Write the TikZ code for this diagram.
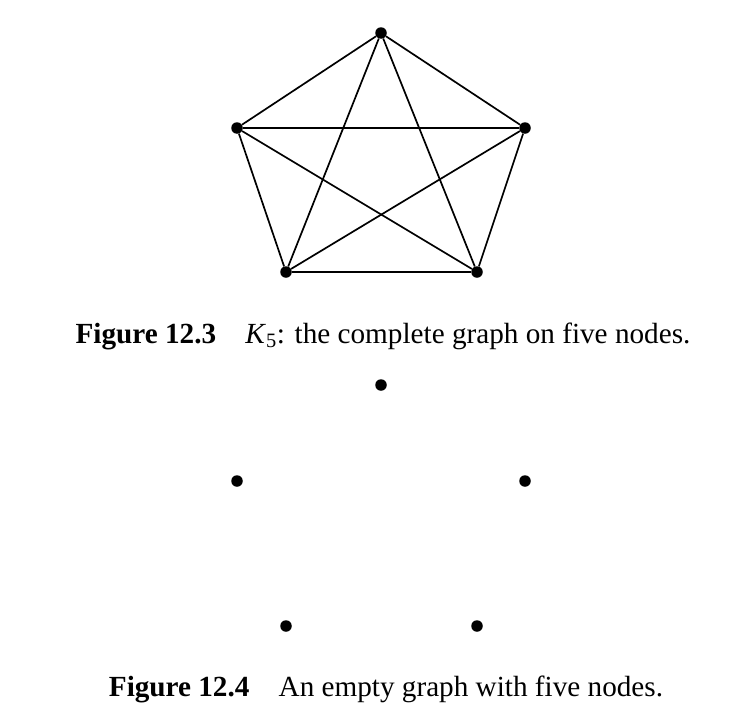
\documentclass[tikz,border=0pt]{standalone}
\usepackage{fontspec}
\setmainfont{Liberation Serif}
\begin{document}
\begin{tikzpicture}[x=1pt,y=-1pt,
  vtx/.style={circle,fill=black,inner sep=0pt,minimum size=11.5pt},
  edge/.style={line width=1.7pt},
  captxt/.style={font=\fontsize{29.2}{33}\selectfont,anchor=base,inner sep=0pt}]
\useasboundingbox (0,0) rectangle (752,720);
% Figure 12.3
\node[vtx] (a) at (381,33) {};
\node[vtx] (b) at (237,128) {};
\node[vtx] (c) at (525,128) {};
\node[vtx] (d) at (286,272) {};
\node[vtx] (e) at (477,272) {};
\foreach \u/\v in {a/b,a/c,a/d,a/e,b/c,b/d,b/e,c/d,c/e,d/e}
  \draw[edge] (\u) -- (\v);
\node[captxt] (cap1) at (383,343) {\textbf{Figure 12.3}\hspace{1em}\textit{K}\textsubscript{5}: the complete graph on five nodes.};
% Figure 12.4
\node[vtx] (f) at (381,385) {};
\node[vtx] (g) at (237,481) {};
\node[vtx] (h) at (525,481) {};
\node[vtx] (i) at (286,626) {};
\node[vtx] (j) at (477,626) {};
\node[captxt] (cap2) at (386,696) {\textbf{Figure 12.4}\hspace{1em}An empty graph with five nodes.};
\end{tikzpicture}
\end{document}
